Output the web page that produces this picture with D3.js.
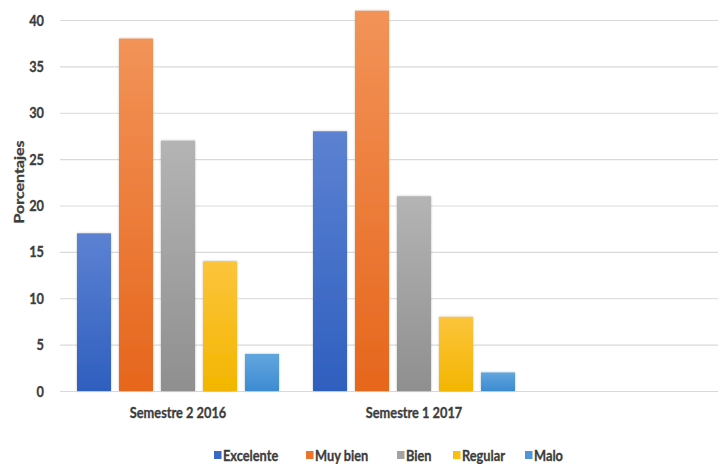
<!DOCTYPE html>
<html>
<head>
<meta charset="utf-8">
<script src="https://cdn.jsdelivr.net/npm/d3@7"></script>
<style>
  html, body { margin: 0; padding: 0; background: #fff; }
  svg { display: block; }
  text { font-family: Lato, "Open Sans", sans-serif; font-weight: 700; }
</style>
</head>
<body>
<svg id="chart" width="718" height="464"></svg>
<script>
// Grouped bar chart: rating distribution per semester (percent)
const categories = ["Semestre 2 2016", "Semestre 1 2017", ""];
const seriesNames = ["Excelente", "Muy bien", "Bien", "Regular", "Malo"];
const excelente = [17, 28];
const muyBien   = [38, 41];
const bien      = [27, 21];
const regular   = [14, 8];
const malo      = [4, 2];
const yTicks = [0, 5, 10, 15, 20, 25, 30, 35, 40];
const yTitle = "Porcentajes";

const seriesValues = [excelente, muyBien, bien, regular, malo];
// light top / dark bottom of each bar gradient
const colors = [
  ["#5c82d2", "#2f5fbf"],
  ["#f29358", "#e6661c"],
  ["#b4b4b4", "#8f8f8f"],
  ["#fcc43c", "#f3b600"],
  ["#62a6de", "#3d8bd2"]
];
const legendColors = ["#3a68c6", "#ec7428", "#a3a3a3", "#fbbf14", "#4d97d8"];

const FONT = "16px";
const SX = 0.8;           // narrow text look
const TEXT_FILL = "#3d3d3d";

const svg = d3.select("#chart");
const plot = { left: 60, right: 768, top: 20, bottom: 391 };

const x0 = d3.scaleBand().domain(categories).range([plot.left, plot.right])
  .paddingInner(0).paddingOuter(0);
const x1 = d3.scaleBand().domain(seriesNames).range([17, x0.bandwidth() - 17])
  .paddingInner(0.19).paddingOuter(0);
const y = d3.scaleLinear().domain([0, 40]).range([plot.bottom, plot.top]);

const defs = svg.append("defs");
colors.forEach((c, i) => {
  const g = defs.append("linearGradient").attr("id", "grad" + i)
    .attr("x1", 0).attr("y1", 0).attr("x2", 0).attr("y2", 1);
  g.append("stop").attr("offset", "0%").attr("stop-color", c[0]);
  g.append("stop").attr("offset", "100%").attr("stop-color", c[1]);
});
const shadow = defs.append("filter").attr("id", "shadow")
  .attr("x", "-20%").attr("y", "-10%").attr("width", "140%").attr("height", "120%");
shadow.append("feDropShadow").attr("dx", 0).attr("dy", 0).attr("stdDeviation", 1.2)
  .attr("flood-color", "#000").attr("flood-opacity", 0.25);

// helper: narrow text placed at (x, y)
function label(parent, x, yy, str, anchor, rotate) {
  const g = parent.append("g")
    .attr("transform", `translate(${x},${yy})` + (rotate ? ` rotate(${rotate})` : "") +
      (rotate ? ` scale(1,${SX})` : ` scale(${SX},1)`));
  return g.append("text").attr("text-anchor", anchor || "start")
    .attr("fill", TEXT_FILL).style("font-size", FONT)
    .attr("stroke", TEXT_FILL).attr("stroke-width", 0.35)
    .text(str);
}

// gridlines
const yAxis = d3.axisLeft(y).tickValues(yTicks).tickSize(-(718 - plot.left)).tickFormat("");
const gy = svg.append("g").attr("transform", `translate(${plot.left},0)`).call(yAxis);
gy.select(".domain").remove();
gy.selectAll(".tick line").attr("stroke", "#d9d9d9").attr("stroke-width", 1.2);

// tick labels
const tickLayer = svg.append("g");
yTicks.forEach(t => {
  label(tickLayer, 44, y(t) + 5.5, d3.format("d")(t), "end");
});

// bars
const groups = svg.append("g").selectAll("g").data(categories.slice(0, 2)).join("g")
  .attr("transform", d => `translate(${x0(d)},0)`);
groups.selectAll("rect")
  .data((d, ci) => seriesNames.map((s, si) => ({ s, si, v: seriesValues[si][ci] })))
  .join("rect")
  .attr("x", d => x1(d.s))
  .attr("width", x1.bandwidth())
  .attr("y", d => y(d.v))
  .attr("height", d => y(0) - y(d.v))
  .attr("fill", d => `url(#grad${d.si})`)
  .attr("filter", "url(#shadow)");

// category labels
const catLayer = svg.append("g");
categories.filter(c => c).forEach(c => {
  label(catLayer, x0(c) + x0.bandwidth() / 2, 418, c, "middle");
});

// y-axis title
label(svg, 24, 182, yTitle, "middle", -90);

// legend
const legendX = [214, 306, 397, 453, 525];
const legend = svg.append("g");
seriesNames.forEach((name, i) => {
  const lx = legendX[i];
  legend.append("rect").attr("x", lx).attr("y", 451).attr("width", 7.5).attr("height", 8)
    .attr("fill", legendColors[i]);
  label(legend, lx + 9, 461, name, "start");
});
</script>
</body>
</html>
